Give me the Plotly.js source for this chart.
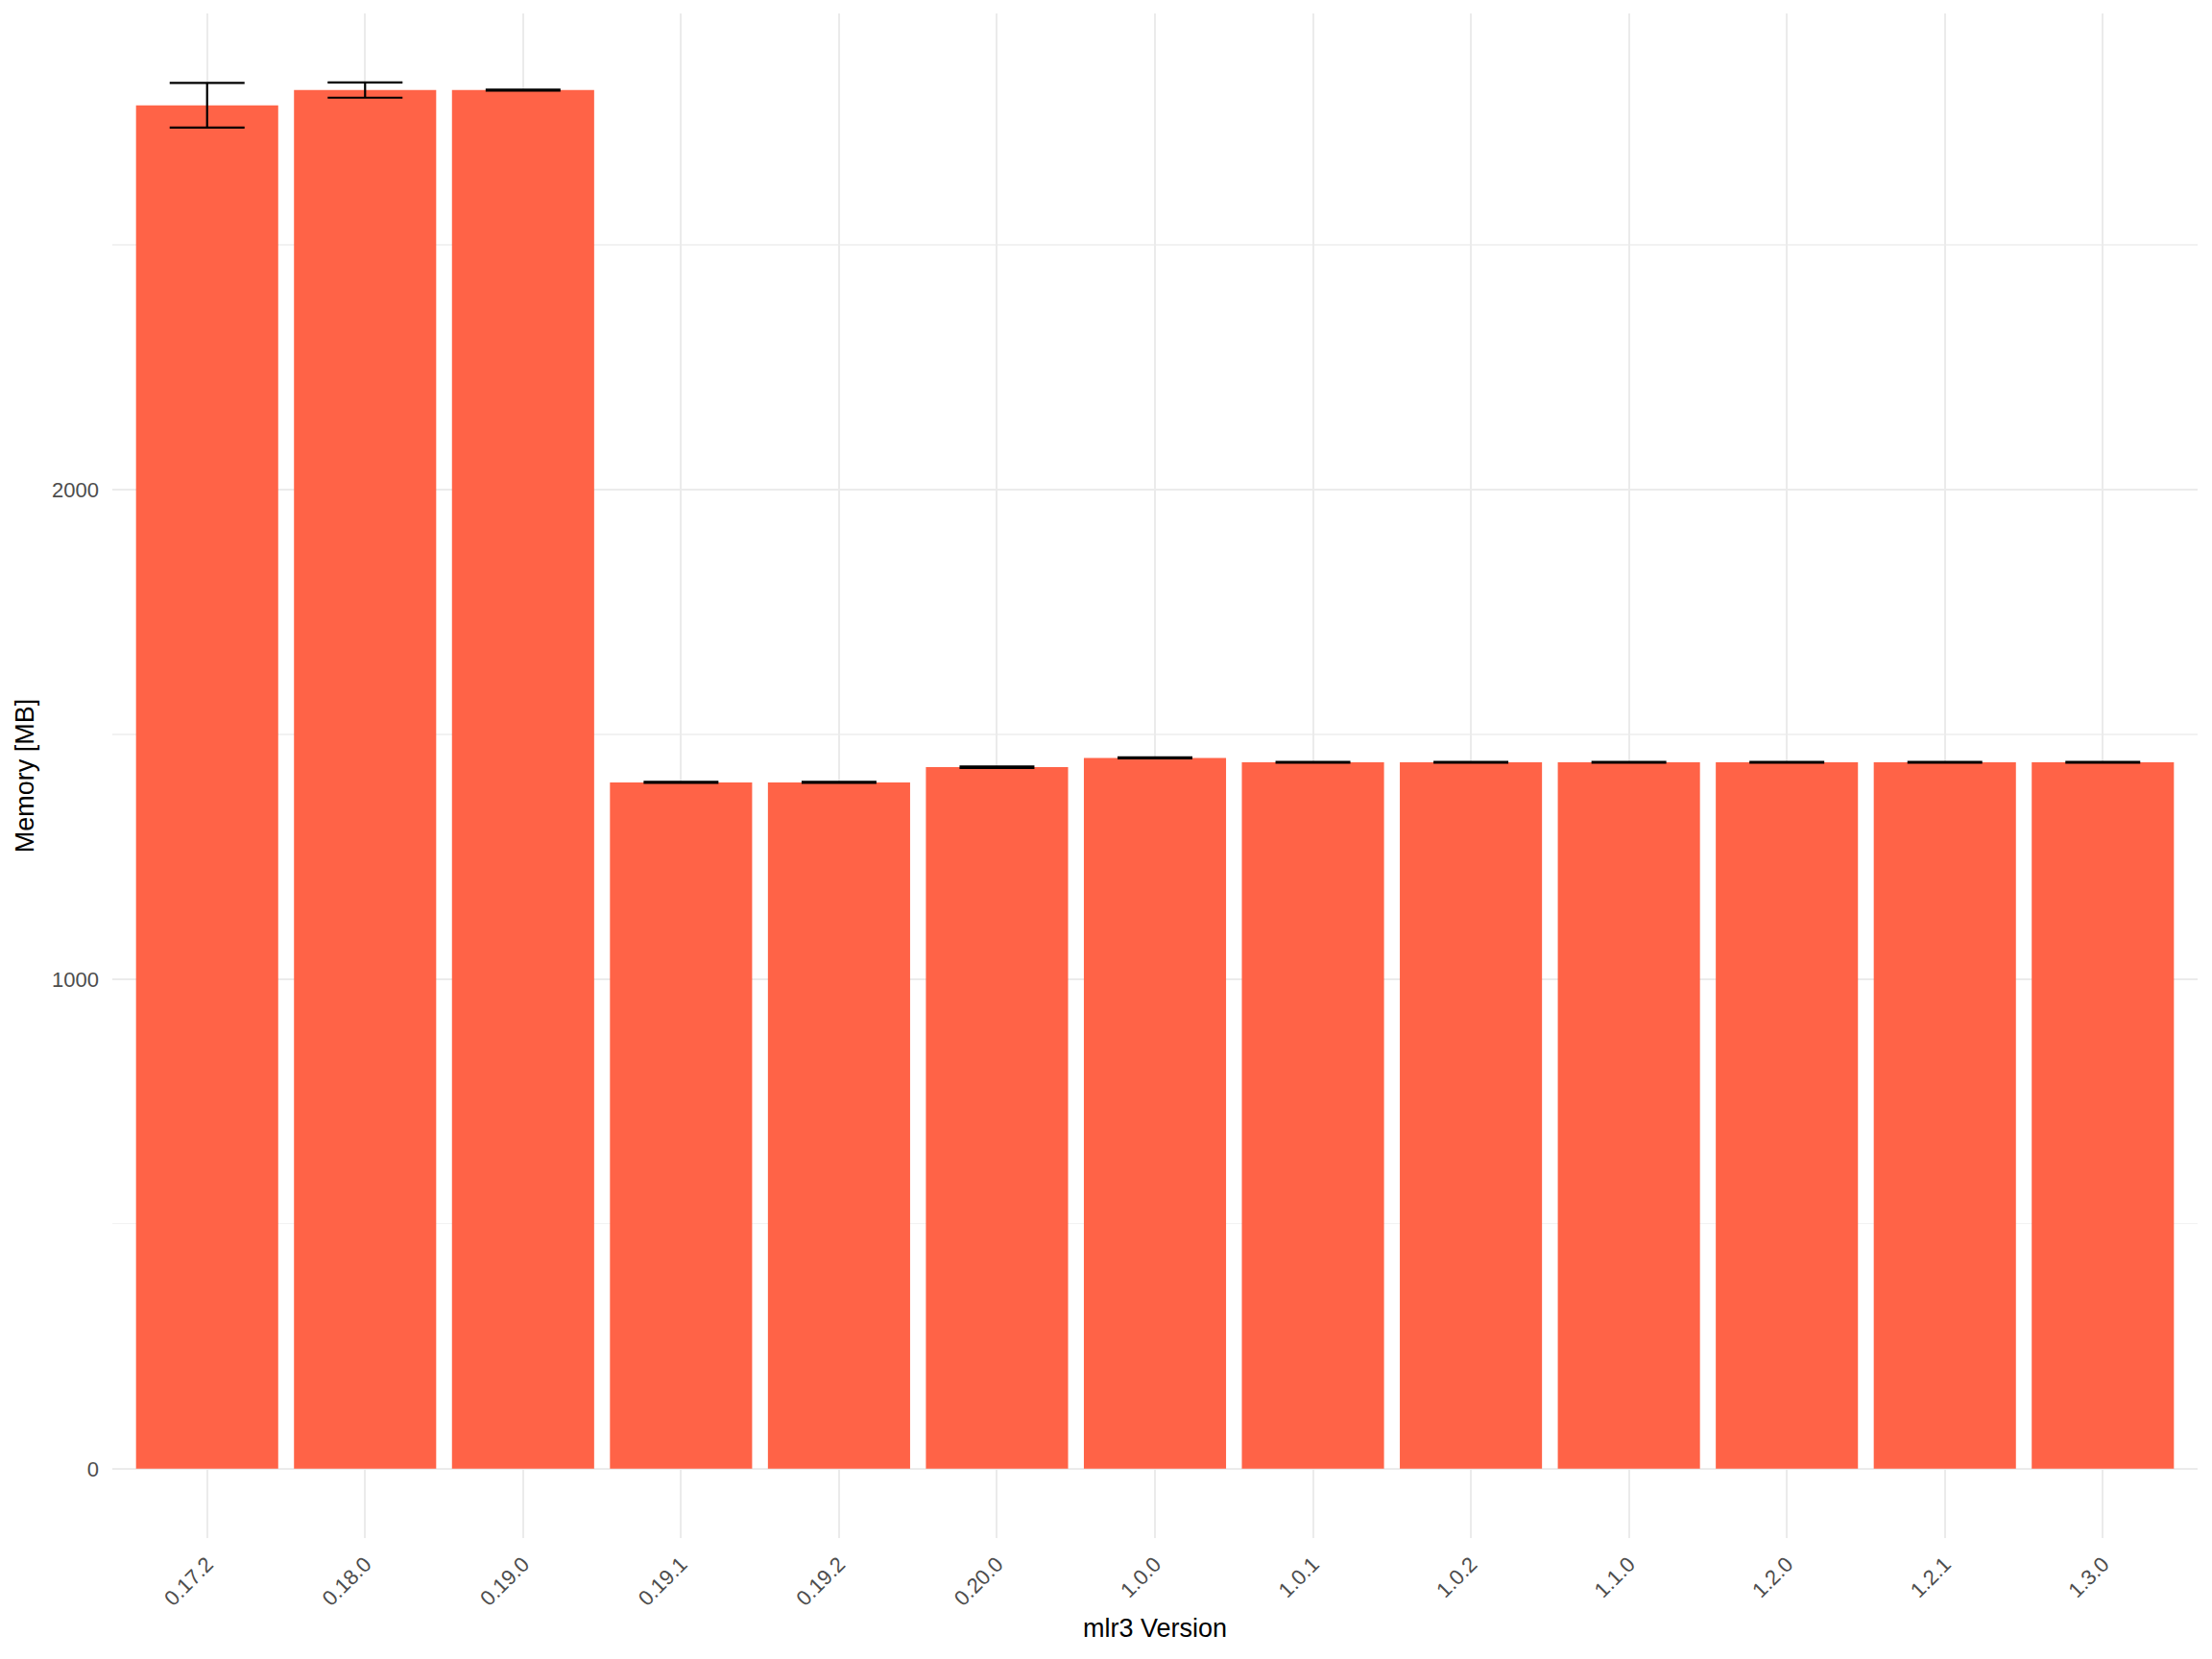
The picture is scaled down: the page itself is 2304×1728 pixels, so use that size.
<!DOCTYPE html>
<html>
<head>
<meta charset="utf-8">
<script src="https://cdn.plot.ly/plotly-3.0.1.min.js"></script>
<style>html,body{margin:0;padding:0;background:#fff}#chart{width:2304px;height:1728px}</style>
</head>
<body>
<div id="chart"></div>
<script>
const versions = ['0.17.2','0.18.0','0.19.0','0.19.1','0.19.2','0.20.0','1.0.0','1.0.1','1.0.2','1.1.0','1.2.0','1.2.1','1.3.0'];
const memoryMB = [2785, 2816, 2816, 1402, 1402, 1433, 1452, 1443, 1443, 1443, 1443, 1443, 1443];
const memorySD = [45.5, 15.5, 1, 1, 1, 1.5, 1, 1, 1, 1, 1, 1, 1];
const yTickVals = [0, 1000, 2000];
const yTickText = ['0', '1000', '2000'];

const font = 'Liberation Sans, Arial, Helvetica, sans-serif';
const trace = {
  type: 'bar',
  x: versions,
  y: memoryMB,
  marker: {color: '#FF6347', line: {width: 0}},
  error_y: {type: 'data', array: memorySD, visible: true, color: '#000000', thickness: 2.2, width: 39},
  hoverinfo: 'x+y'
};
const layout = {
  width: 2304, height: 1728,
  margin: {l: 117, r: 15, t: 14, b: 126, pad: 0},
  paper_bgcolor: '#ffffff', plot_bgcolor: '#ffffff',
  bargap: 0.1,
  showlegend: false,
  font: {family: font, color: '#4D4D4D', size: 22},
  xaxis: {
    type: 'category',
    range: [-0.6, 12.6],
    showgrid: true, gridcolor: '#EBEBEB', gridwidth: 2,
    zeroline: false, showline: false, ticks: '',
    tickangle: -45,
    tickfont: {family: font, size: 22, color: '#4D4D4D'},
    ticklabelstandoff: 9,
    automargin: false,
    title: {text: 'mlr3 Version', font: {family: font, size: 27, color: '#000000'}, standoff: 9}
  },
  yaxis: {
    range: [-141.5, 2972.6],
    tickmode: 'array', tickvals: yTickVals, ticktext: yTickText,
    showgrid: true, gridcolor: '#EBEBEB', gridwidth: 2,
    minor: {tickmode: 'array', tickvals: [500, 1500, 2500], showgrid: true, gridcolor: '#F2F2F2', gridwidth: 1.2, ticks: ''},
    zeroline: false, showline: false, ticks: '',
    tickfont: {family: font, size: 22, color: '#4D4D4D'},
    ticklabelstandoff: 13,
    automargin: false,
    title: {text: 'Memory [MB]', font: {family: font, size: 27, color: '#000000'}, standoff: 10}
  }
};
Plotly.newPlot('chart', [trace], layout, {displayModeBar: false, staticPlot: true});
</script>
</body>
</html>
